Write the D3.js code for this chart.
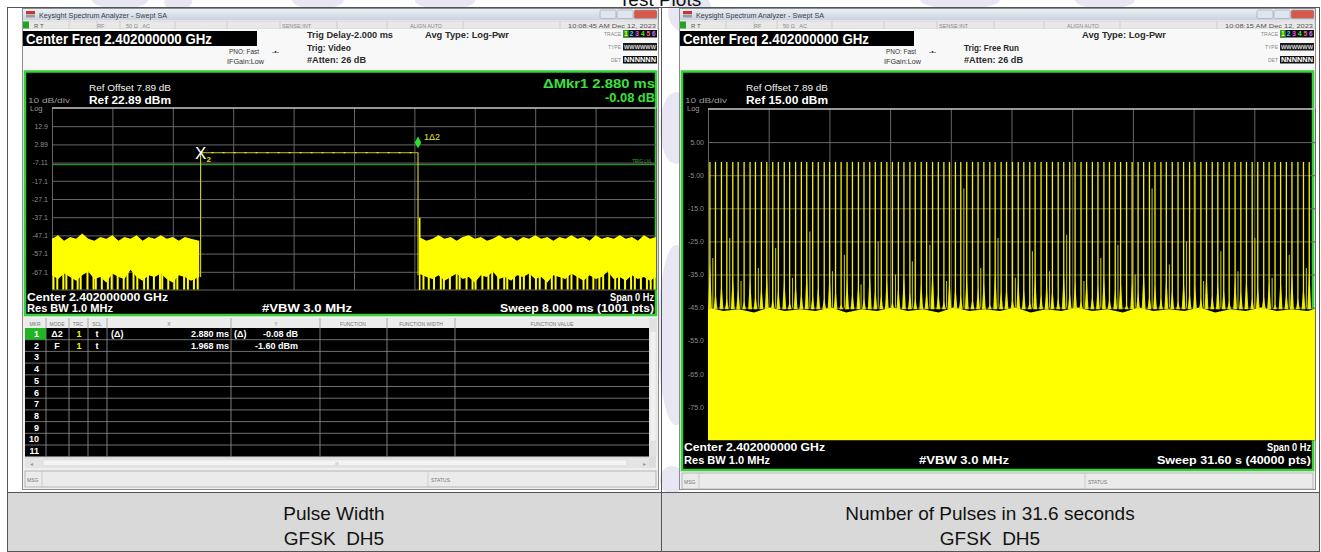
<!DOCTYPE html>
<html>
<head>
<meta charset="utf-8">
<title>Test Plots</title>
<script src="https://cdn.jsdelivr.net/npm/d3@7"></script>
<style>
  html, body { margin: 0; padding: 0; background: #fff; }
  svg { display: block; font-family: "Liberation Sans", Arial, sans-serif; }
  .pre { white-space: pre; }
</style>
</head>
<body>
<svg id="chart" width="1321" height="552"></svg>
<script>
"use strict";

//#region Data

// Left screen: pulse width, zero span, 8 ms sweep
const leftRefLevel = 22.89; // dBm at top graticule line
const leftYLabels = ["12.9", "2.89", "-7.11", "-17.1", "-27.1", "-37.1", "-47.1", "-57.1", "-67.1"];
const leftXDivs = [0, 0.8, 1.6, 2.4, 3.2, 4.0, 4.8, 5.6, 6.4, 7.2, 8.0]; // ms
const markerTimes = [1.968, 4.848]; // ms, marker 2 (rise) and marker 1 (fall)
const pulseLevel = -1.60; // dBm
const trigLevel = -8.2;   // dBm
const fallSpike = [4.87, -37.5]; // overshoot right after the falling edge

// noise floor before / after the burst: [ms, top dBm, low dBm]
const noiseBefore = [
    [0.00, -49, -69], [0.08, -47, -71], [0.16, -50, -68], [0.24, -48, -70], [0.32, -49, -72],
    [0.40, -46, -69], [0.48, -49, -67], [0.56, -50, -71], [0.64, -48, -70], [0.72, -49, -73],
    [0.80, -47, -68], [0.88, -50, -70], [0.96, -48, -71], [1.04, -49, -66], [1.12, -47, -70],
    [1.20, -50, -72], [1.28, -48, -69], [1.36, -49, -70], [1.44, -47, -68], [1.52, -49, -71],
    [1.60, -48, -73], [1.68, -50, -69], [1.76, -48, -70], [1.84, -49, -72], [1.95, -50, -70]
];
const noiseAfter = [
    [4.86, -48, -68], [4.96, -50, -70], [5.04, -49, -71], [5.12, -47, -69], [5.20, -49, -72],
    [5.28, -48, -70], [5.36, -50, -68], [5.44, -48, -71], [5.52, -47, -70], [5.60, -49, -73],
    [5.68, -48, -69], [5.76, -50, -70], [5.84, -49, -67], [5.92, -47, -71], [6.00, -49, -70],
    [6.08, -48, -72], [6.16, -50, -69], [6.24, -48, -70], [6.32, -49, -68], [6.40, -47, -71],
    [6.48, -49, -70], [6.56, -48, -73], [6.64, -50, -69], [6.72, -48, -70], [6.80, -49, -71],
    [6.88, -47, -68], [6.96, -49, -70], [7.04, -48, -72], [7.12, -50, -69], [7.20, -47, -71],
    [7.28, -49, -70], [7.36, -48, -67], [7.44, -49, -71], [7.52, -47, -70], [7.60, -49, -72],
    [7.68, -48, -69], [7.76, -50, -71], [7.84, -47, -70], [7.92, -49, -72], [8.00, -48, -70]
];
// places where the trace drops down to the bottom line
const dipsBefore = [0.02, 0.07, 0.15, 0.19, 0.27, 0.34, 0.38, 0.47, 0.55, 0.58, 0.66, 0.74, 0.79, 0.87, 0.95,
    1.00, 1.08, 1.13, 1.22, 1.27, 1.35, 1.43, 1.46, 1.54, 1.62, 1.66, 1.75, 1.80, 1.88, 1.93];
const dipsAfter = [4.92, 4.99, 5.06, 5.15, 5.19, 5.27, 5.36, 5.40, 5.49, 5.57, 5.61, 5.70, 5.78, 5.83, 5.91,
    5.99, 6.03, 6.12, 6.20, 6.25, 6.33, 6.41, 6.46, 6.54, 6.62, 6.67, 6.75, 6.83, 6.88, 6.96, 7.04, 7.09,
    7.17, 7.25, 7.30, 7.38, 7.46, 7.51, 7.59, 7.67, 7.72, 7.80, 7.88, 7.93, 7.98];

// marker table
const markerNums = ["1", "2", "3", "4", "5", "6", "7", "8", "9", "10", "11"];
const markerModes = ["Δ2", "F"];
const markerTrc = ["1", "1"];
const markerScl = ["t", "t"];
const markerXPre = ["(Δ)", ""];
const markerX = ["2.880 ms", "1.968 ms"];
const markerYPre = ["(Δ)", ""];
const markerY = ["-0.08 dB", "-1.60 dBm"];

// Right screen: number of pulses, zero span, 31.6 s sweep
const rightRefLevel = 15.0;
const rightYLabels = ["5.00", "-5.00", "-15.0", "-25.0", "-35.0", "-45.0", "-55.0", "-65.0", "-75.0"];
const rightXDivs = [0, 3.16, 6.32, 9.48, 12.64, 15.8, 18.96, 22.12, 25.28, 28.44, 31.6]; // s
const pulseTimesR = [
    0.10, 0.39, 0.70, 0.98, 1.29, 1.57, 1.88, 2.19, 2.47, 2.78,
    3.06, 3.37, 3.66, 3.97, 4.25, 4.56, 4.86, 5.14, 5.45, 5.74,
    6.05, 6.33, 6.64, 6.93, 7.24, 7.52, 7.83, 8.12, 8.42, 8.71,
    9.02, 9.31, 9.60, 9.91, 10.20, 10.51, 10.79, 11.10, 11.38, 11.69,
    11.99, 12.28, 12.57, 12.88, 13.16, 13.47, 13.77, 14.06, 14.36, 14.67,
    14.95, 15.26, 15.54, 15.85, 16.15, 16.44, 16.75, 17.03, 17.34, 17.63,
    17.93, 18.23, 18.52, 18.83, 19.11, 19.42, 19.71, 20.01, 20.30, 20.61,
    20.90, 21.20, 21.48, 21.79, 22.08, 22.39, 22.68, 22.98, 23.27, 23.58,
    23.86, 24.17, 24.47, 24.76, 25.07, 25.35, 25.66, 25.95, 26.25, 26.54,
    26.85, 27.13, 27.44, 27.74, 28.03, 28.33, 28.62, 28.93, 29.21, 29.52,
    29.81, 30.11, 30.40, 30.71, 31.00, 31.30
];
const pulsePeakR = -1.0; // every burst tops out on the same level
const pulseSkirtR = [
    -31, -40, -37, -42, -35, -39, -43, -36, -41, -38,
    -34, -42, -39, -36, -43, -37, -40, -33, -41, -38,
    -42, -35, -39, -44, -36, -40, -37, -42, -34, -39,
    -41, -36, -43, -38, -35, -40, -42, -37, -39, -33,
    -40, -43, -36, -38, -41, -35, -42, -39, -37, -44,
    -34, -40, -38, -42, -36, -39, -43, -35, -41, -37,
    -39, -42, -34, -40, -37, -43, -36, -41, -38, -35,
    -42, -39, -36, -44, -37, -40, -33, -41, -38, -42,
    -35, -39, -43, -36, -40, -38, -42, -34, -41, -37,
    -39, -43, -36, -40, -35, -42, -38, -41, -37, -44,
    -36, -40, -34, -42, -38, -33
];
// weaker partial spikes: [s, dBm]
const minorPeaksR = [
    [0.25, -30], [1.13, -24], [1.72, -37], [2.62, -33], [3.52, -27], [4.40, -36], [5.30, -22], [6.48, -34],
    [7.10, -29], [7.97, -38], [8.86, -25], [9.76, -35], [10.64, -31], [11.55, -26], [12.42, -37], [13.32, -9],
    [14.20, -33], [15.10, -24], [16.00, -36], [16.89, -28], [17.78, -34], [18.67, -23], [19.57, -37], [20.45, -30],
    [21.34, -26], [22.24, -35], [23.12, -9], [24.02, -32], [24.91, -25], [25.80, -37], [26.70, -28], [27.59, -34],
    [28.47, -24], [29.37, -36], [30.26, -29], [31.15, -33]
];
// top of the solid noise floor: [s, dBm]
const floorR = [
    [0, -45], [0.8, -46], [1.6, -45.5], [2.4, -46.5], [3.2, -45], [4.0, -46], [4.8, -45.5], [5.6, -46],
    [6.4, -45], [7.2, -46.5], [8.0, -45.5], [8.8, -46], [9.6, -45], [10.4, -46], [11.2, -45.5], [12.0, -46.5],
    [12.8, -45], [13.6, -46], [14.4, -45.5], [15.2, -46], [16.0, -45], [16.8, -46.5], [17.6, -45.5], [18.4, -46],
    [19.2, -45], [20.0, -46], [20.8, -45.5], [21.6, -46.5], [22.4, -45], [23.2, -46], [24.0, -45.5], [24.8, -46],
    [25.6, -45], [26.4, -46.5], [27.2, -45.5], [28.0, -46], [28.8, -45], [29.6, -46], [30.4, -45.5], [31.2, -46],
    [31.6, -45.5]
];

const captionsL = ["Pulse Width", "GFSK  DH5"];
const captionsR = ["Number of Pulses in 31.6 seconds", "GFSK  DH5"];
//#endregion

const FONT = '"Liberation Sans", Arial, sans-serif';
const svg = d3.select("#chart");

const defs = svg.append("defs");
const tg = defs.append("linearGradient").attr("id", "titleGrad")
    .attr("x1", 0).attr("y1", 0).attr("x2", 0).attr("y2", 1);
tg.append("stop").attr("offset", "0%").attr("stop-color", "#eaeff6");
tg.append("stop").attr("offset", "100%").attr("stop-color", "#cad3df");

//#region helpers
function txt(g, x, y, s, o = {}) {
    const t = g.append("text")
        .attr("x", x).attr("y", y)
        .attr("font-size", o.size || 8)
        .attr("fill", o.fill || "#222")
        .attr("text-anchor", o.anchor || "start")
        .text(s);
    if (o.bold) t.attr("font-weight", "bold");
    if (o.len) t.attr("textLength", o.len).attr("lengthAdjust", "spacingAndGlyphs");
    return t;
}

function rect(g, x, y, w, h, fill, stroke, sw) {
    const r = g.append("rect").attr("x", x).attr("y", y).attr("width", w).attr("height", h).attr("fill", fill);
    if (stroke) r.attr("stroke", stroke).attr("stroke-width", sw || 1);
    return r;
}

function vline(g, x, y1, y2, c, sw) {
    return g.append("line").attr("x1", x).attr("x2", x).attr("y1", y1).attr("y2", y2)
        .attr("stroke", c).attr("stroke-width", sw || 1);
}

function hline(g, y, x1, x2, c, sw) {
    return g.append("line").attr("x1", x1).attr("x2", x2).attr("y1", y).attr("y2", y)
        .attr("stroke", c).attr("stroke-width", sw || 1);
}
//#endregion

// faint watermark behind the table
const wm = svg.append("g").attr("fill", "#e8e6f3");
[[120, 0, 28, 9], [178, 2, 14, 8], [318, 0, 26, 9], [445, 1, 30, 8], [690, 12, 22, 22],
 [960, 0, 40, 9], [1105, 0, 30, 9], [676, 128, 16, 36], [676, 335, 18, 90], [672, 480, 12, 14]]
    .forEach(([cx, cy, rx, ry]) => wm.append("ellipse").attr("cx", cx).attr("cy", cy).attr("rx", rx).attr("ry", ry));

txt(svg, 660, 5.5, "Test Plots", { size: 19, fill: "#111", anchor: "middle" });

//#region analyzer window chrome
function drawWindow(ox, cfg) {
    const g = svg.append("g").attr("transform", `translate(${ox},0)`);
    const w = 637;
    rect(g, 0.5, 8.5, w - 1, 481, "#efefef", "#8c8c8c", 1);

    // title bar
    rect(g, 1, 9, w - 2, 11, "url(#titleGrad)");
    rect(g, 4, 11, 9, 3, "#c8372d");
    rect(g, 4, 14.5, 9, 3, "#9a9a9a");
    txt(g, 17, 17.5, "Keysight Spectrum Analyzer - Swept SA", { size: 6.5, fill: "#404040", len: 128 });
    [[578, 16, "#dfe5ee"], [595, 16, "#dfe5ee"], [612, 23, "#d65a4c"]].forEach(([x, bw, c]) =>
        rect(g, x, 10, bw, 8.5, c, "#98a2ae", 0.6).attr("rx", 1.5));

    // status strip
    rect(g, 1, 21, w - 2, 8, "#e8e8e8", "#c6c6c6", 0.5);
    [47, 75, 98, 153, 205, 258, 315, 365, 441, 538].forEach(x => vline(g, x, 21, 29, "#bdbdbd", 0.6));
    rect(g, 1, 21.5, 6, 7, "#22a422");
    txt(g, 12, 27.5, "R  T", { size: 6, fill: "#555" });
    txt(g, 75, 27.5, "RF", { size: 5.5, fill: "#888" });
    txt(g, 104, 27.5, "50 Ω   AC", { size: 5.5, fill: "#888" }).attr("class", "pre");
    txt(g, 260, 27.5, "SENSE:INT", { size: 5.5, fill: "#888", len: 29 });
    txt(g, 388, 27.5, "ALIGN AUTO", { size: 5.5, fill: "#888", len: 32 });
    txt(g, 634, 27.5, cfg.clock, { size: 6, fill: "#555", anchor: "end", len: 88 });

    // settings header
    rect(g, 1, 29, w - 2, 42, "#f8f8f8");
    rect(g, 1, 31, 234, 15, "#000");
    txt(g, 4, 44, "Center Freq 2.402000000 GHz", { size: 14, bold: true, fill: "#fff", len: 186 });
    txt(g, 207, 54, "PNO: Fast", { size: 6.5, fill: "#333", len: 30 });
    txt(g, 250, 54, "-•-", { size: 7, fill: "#333" });
    txt(g, 205, 64, "IFGain:Low", { size: 6.5, fill: "#333", len: 37 });
    cfg.trig.forEach((s, i) => {
        if (s) txt(g, 285, 38 + i * 12.5, s[0], { size: 9.5, bold: true, fill: "#2b2b2b", len: s[1] });
    });
    txt(g, 403, 38, "Avg Type: Log-Pwr", { size: 9.5, bold: true, fill: "#2b2b2b", len: 84 });

    // trace / type / det block
    txt(g, 599, 36, "TRACE", { size: 5, fill: "#888", anchor: "end" });
    txt(g, 599, 49, "TYPE", { size: 5, fill: "#888", anchor: "end" });
    txt(g, 599, 62, "DET", { size: 5, fill: "#888", anchor: "end" });
    rect(g, 601, 30, 34, 7.5, "#111");
    rect(g, 601, 30, 5.7, 7.5, "#2a9a2a");
    ["#ffff33", "#33ccff", "#ff44ff", "#33ee33", "#ff6666", "#bb77ff"].forEach((c, i) =>
        txt(g, 603.9 + i * 5.6, 36.3, String(i + 1), { size: 6.5, bold: true, fill: c, anchor: "middle" }));
    rect(g, 601, 43, 34, 7.5, "#1a1a1a");
    txt(g, 602, 49.3, "WWWWWW", { size: 6, bold: true, fill: "#dcdcdc", len: 32 });
    rect(g, 601, 56, 34, 7.5, "#111");
    txt(g, 602, 62.3, "NNNNNN", { size: 6.5, bold: true, fill: "#fff", len: 32 });

    // screen panel
    rect(g, 3, 71.5, 631, cfg.panelBottom - 71.5, "#000", "#35d035", 2.5);
    txt(g, 67, 91, "Ref Offset 7.89 dB", { size: 8.5, fill: "#f2f2f2", len: 82 });
    txt(g, 67, 104, cfg.ref, { size: 10.5, bold: true, fill: "#fff", len: 82 });
    txt(g, 6, 103, "10 dB/div", { size: 7.5, fill: "#9a9a9a", len: 42 });
    txt(g, 8, 111, "Log", { size: 7.5, fill: "#9a9a9a" });

    txt(g, 5, cfg.b1, "Center 2.402000000 GHz", { size: 10.5, bold: true, fill: "#fff", len: 141 });
    txt(g, 632, cfg.b1, "Span 0 Hz", { size: 10.5, bold: true, fill: "#fff", anchor: "end", len: 44 });
    txt(g, 5, cfg.b2, "Res BW 1.0 MHz", { size: 10.5, bold: true, fill: "#fff", len: 86 });
    txt(g, 240, cfg.b2, "#VBW 3.0 MHz", { size: 10.5, bold: true, fill: "#fff", len: 90 });
    txt(g, 632, cfg.b2, cfg.sweep, { size: 10.5, bold: true, fill: "#fff", anchor: "end", len: 154 });

    // message bar
    rect(g, 3, cfg.msgY, 631, 16, "#ebebeb", "#a8a8a8", 0.8);
    vline(g, 20, cfg.msgY, cfg.msgY + 16, "#bbb", 0.6);
    vline(g, 406, cfg.msgY, cfg.msgY + 16, "#bbb", 0.6);
    txt(g, 5, cfg.msgY + 10.5, "MSG", { size: 5, fill: "#777" });
    txt(g, 409, cfg.msgY + 10.5, "STATUS", { size: 5, fill: "#777" });
    return g;
}

drawWindow(22, {
    clock: "10:08:45 AM Dec 12, 2023",
    trig: [["Trig Delay-2.000 ms", 86], ["Trig: Video", 44], ["#Atten: 26 dB", 59]],
    ref: "Ref 22.89 dBm",
    sweep: "Sweep  8.000 ms (1001 pts)",
    panelBottom: 315, b1: 301, b2: 312, msgY: 471
});
drawWindow(679, {
    clock: "10:08:15 AM Dec 12, 2023",
    trig: [null, ["Trig: Free Run", 55], ["#Atten: 26 dB", 59]],
    ref: "Ref 15.00 dBm",
    sweep: "Sweep  31.60 s (40000 pts)",
    panelBottom: 470, b1: 451, b2: 464, msgY: 473
});
//#endregion

//#region graticule
function drawGrid(grid, x, y, xDivs, yLabels) {
    const g = svg.append("g");
    g.append("g").attr("transform", `translate(0,${grid.y1})`)
        .call(d3.axisBottom(x).tickValues(xDivs).tickSize(-(grid.y1 - grid.y0)).tickFormat(""))
        .call(a => a.select(".domain").remove())
        .call(a => a.selectAll("line").attr("stroke", "#666"));
    g.append("g").attr("transform", `translate(${grid.x0},0)`)
        .call(d3.axisLeft(y).tickValues(yLabels.map(Number)).tickFormat((d, i) => yLabels[i])
            .tickSize(-(grid.x1 - grid.x0)).tickPadding(4))
        .call(a => a.select(".domain").remove())
        .call(a => a.selectAll("line").attr("stroke", "#666"))
        .call(a => a.selectAll("text").attr("fill", "#8c8c8c").attr("font-size", 7).attr("font-family", FONT));
    hline(g, grid.y0, grid.x0, grid.x1, "#c8c8c8", 1.6);
    hline(g, grid.y1, grid.x0, grid.x1, "#666", 1);
    return g;
}
//#endregion

//#region left: pulse width
const gridL = { x0: 52, x1: 656, y0: 108, y1: 290 };
const xL = d3.scaleLinear().domain([0, 8]).range([gridL.x0, gridL.x1]);
const yL = d3.scaleLinear().domain([leftRefLevel - 100, leftRefLevel]).range([gridL.y1, gridL.y0]);
drawGrid(gridL, xL, yL, leftXDivs, leftYLabels);

// trigger level line
hline(svg, yL(trigLevel), gridL.x0, gridL.x1 - 1, "#2c8c2c", 1.2);
txt(svg, 652, yL(trigLevel) - 2, "TRIG LVL", { size: 4.5, fill: "#3aa83a", anchor: "end" });

const traceL = svg.append("g");
const areaL = d3.area().x(d => xL(d[0])).y0(d => yL(d[2])).y1(d => yL(d[1]));
[noiseBefore, noiseAfter].forEach(seg =>
    traceL.append("path").attr("d", areaL(seg)).attr("fill", "#ffff00"));
traceL.selectAll(".dip").data(dipsBefore.concat(dipsAfter)).join("line")
    .attr("class", "dip")
    .attr("x1", d => xL(d)).attr("x2", d => xL(d))
    .attr("y1", yL(-67)).attr("y2", gridL.y1 - 0.5)
    .attr("stroke", "#ffff00").attr("stroke-width", 2);

// burst envelope
const riseX = xL(markerTimes[0]), fallX = xL(markerTimes[1]), topY = yL(pulseLevel);
vline(traceL, riseX, yL(-70), topY, "#c8c81e", 1.2);
vline(traceL, fallX, topY, yL(-69), "#c8c81e", 1.2);
hline(traceL, topY, riseX, fallX, "#9c9c14", 1.3);
hline(traceL, topY, riseX, fallX, "#e8e830", 1.3).attr("stroke-dasharray", "2 9");
vline(traceL, xL(fallSpike[0]), gridL.y1, yL(fallSpike[1]), "#ffff00", 1.6);

// markers
txt(svg, riseX, topY + 6.5, "X", { size: 17, fill: "#fff", anchor: "middle" });
txt(svg, riseX + 6, topY + 9, "2", { size: 8, bold: true, fill: "#e6e600" });
svg.append("path")
    .attr("d", `M${fallX},${topY - 16} L${fallX + 3.2},${topY - 10} L${fallX},${topY - 4} L${fallX - 3.2},${topY - 10} Z`)
    .attr("fill", "#2fe02f");
txt(svg, fallX + 6, topY - 13, "1Δ2", { size: 9, fill: "#e3e330" });

// delta marker readout
txt(svg, 655, 88, "ΔMkr1 2.880 ms", { size: 13, bold: true, fill: "#3ee03e", anchor: "end", len: 112 });
txt(svg, 655, 102, "-0.08 dB", { size: 13, bold: true, fill: "#3ee03e", anchor: "end", len: 50 });

// marker table
(function drawMarkerTable() {
    const g = svg.append("g").attr("transform", "translate(22,0)");
    const top = 318, hdrH = 10, rowH = 11.7, x0 = 3, x1 = 627;
    const bodyTop = top + hdrH, bodyBottom = bodyTop + rowH * markerNums.length;
    rect(g, x0, top, 631, bodyBottom - top + 11, "#dcdcdc");
    rect(g, x0, top, x1 - x0, hdrH, "#ececec");
    rect(g, x0, bodyTop, x1 - x0, bodyBottom - bodyTop, "#000");
    markerNums.forEach((d, i) => hline(g, bodyTop + rowH * (i + 1), x0, x1, "#8a8a8a", 0.8));
    [24, 47, 66, 85, 209, 298, 365, 433].forEach(x => vline(g, x, top, bodyBottom, "#9a9a9a", 0.8));
    [["MKR", 13], ["MODE", 35], ["TRC", 56], ["SCL", 75], ["X", 147], ["Y", 254],
     ["FUNCTION", 331], ["FUNCTION WIDTH", 399], ["FUNCTION VALUE", 530]]
        .forEach(([s, x]) => txt(g, x, top + 7.5, s, { size: 5, fill: "#777", anchor: "middle" }));
    txt(g, 632, top + 7.5, "▴", { size: 5, fill: "#999", anchor: "middle" });
    rect(g, x0, bodyTop, 21, rowH, "#22b422");
    markerNums.forEach((n, i) => {
        const by = bodyTop + rowH * i + 9;
        txt(g, 17, by, n, { size: 9, bold: true, fill: "#fff", anchor: "end" });
        if (i < markerModes.length) {
            txt(g, 35, by, markerModes[i], { size: 9, bold: true, fill: "#fff", anchor: "middle" });
            txt(g, 57, by, markerTrc[i], { size: 9, bold: true, fill: "#f2f200", anchor: "middle" });
            txt(g, 75, by, markerScl[i], { size: 9, bold: true, fill: "#fff", anchor: "middle" });
            txt(g, 89, by, markerXPre[i], { size: 9, bold: true, fill: "#fff" });
            txt(g, 207, by, markerX[i], { size: 9, bold: true, fill: "#fff", anchor: "end" });
            txt(g, 212, by, markerYPre[i], { size: 9, bold: true, fill: "#fff" });
            txt(g, 276, by, markerY[i], { size: 9, bold: true, fill: "#fff", anchor: "end" });
        }
    });
    // scroll bars
    rect(g, x1, top, 8, bodyBottom - top, "#e2e2e2");
    rect(g, x1 + 1.5, top + 14, 5, bodyBottom - top - 30, "#f1f1f1");
    rect(g, x0, bodyBottom + 1, x1 - x0, 10, "#e4e4e4");
    rect(g, x0 + 18, bodyBottom + 3, x1 - x0 - 40, 6, "#f3f3f3", "#cfcfcf", 0.5).attr("rx", 2);
    txt(g, x0 + 5, bodyBottom + 9, "◂", { size: 6, fill: "#999" });
    txt(g, x1 - 6, bodyBottom + 9, "▸", { size: 6, fill: "#999" });
    txt(g, 315, bodyBottom + 8, "III", { size: 4, fill: "#aaa", anchor: "middle" });
})();
//#endregion

//#region right: number of pulses
const gridR = { x0: 708, x1: 1315, y0: 109, y1: 440 };
const xR = d3.scaleLinear().domain([0, 31.6]).range([gridR.x0, gridR.x1]);
const yR = d3.scaleLinear().domain([rightRefLevel - 100, rightRefLevel]).range([gridR.y1, gridR.y0]);
drawGrid(gridR, xR, yR, rightXDivs, rightYLabels);

const traceR = svg.append("g");
traceR.append("path")
    .attr("d", d3.area().x(d => xR(d[0])).y0(gridR.y1).y1(d => yR(d[1]))(floorR))
    .attr("fill", "#ffff00");
traceR.selectAll(".skirt").data(pulseTimesR).join("path")
    .attr("class", "skirt")
    .attr("d", (t, i) => `M${xR(t - 0.1)},${yR(-45.5)} L${xR(t)},${yR(pulseSkirtR[i])} L${xR(t + 0.1)},${yR(-45.5)} Z`)
    .attr("fill", "#e4e400");
traceR.selectAll(".minor").data(minorPeaksR).join("line")
    .attr("class", "minor")
    .attr("x1", d => xR(d[0])).attr("x2", d => xR(d[0]))
    .attr("y1", yR(-45)).attr("y2", d => yR(d[1]))
    .attr("stroke", "#bcbc00").attr("stroke-width", 1.1);
traceR.selectAll(".pulse").data(pulseTimesR).join("line")
    .attr("class", "pulse")
    .attr("x1", d => xR(d)).attr("x2", d => xR(d))
    .attr("y1", yR(-45)).attr("y2", yR(pulsePeakR))
    .attr("stroke", "#f2f200").attr("stroke-width", 1.3);
//#endregion

//#region table frame and captions
const frame = svg.append("g");
rect(frame, 7.5, 492.5, 654, 58.5, "#d9d9d9");
rect(frame, 661.5, 492.5, 658, 58.5, "#d9d9d9");
hline(frame, 7.5, 7, 1320, "#555", 1);
hline(frame, 492.5, 7, 1320, "#555", 1);
hline(frame, 551.5, 7, 1320, "#555", 1);
[7.5, 661.5, 1319.5].forEach(x => vline(frame, x, 7, 552, "#555", 1));

captionsL.forEach((s, i) =>
    txt(frame, 334, 520 + i * 25, s, { size: 19, fill: "#111", anchor: "middle" }).attr("class", "pre"));
captionsR.forEach((s, i) =>
    txt(frame, 990, 520 + i * 25, s, { size: 19, fill: "#111", anchor: "middle" }).attr("class", "pre"));
//#endregion
</script>
</body>
</html>
